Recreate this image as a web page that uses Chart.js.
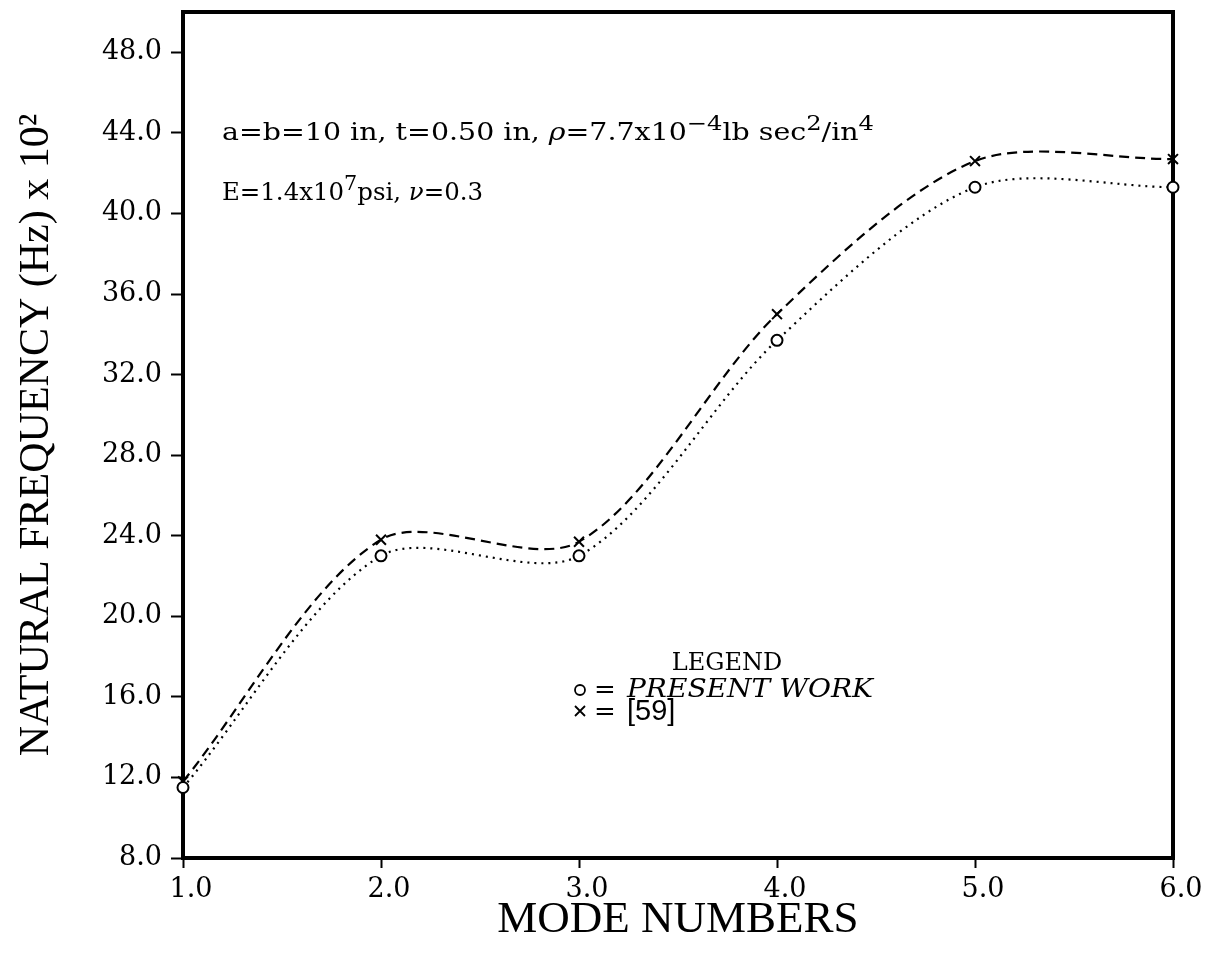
<!DOCTYPE html>
<html>
<head>
<meta charset="utf-8">
<script src="https://cdn.jsdelivr.net/npm/chart.js@4.4.0/dist/chart.umd.min.js"></script>
<style>
  html, body { margin: 0; padding: 0; background: #fff; }
  #wrap { width: 1211px; height: 953px; }
</style>
</head>
<body>
<div id="wrap"><canvas id="freqChart" width="1211" height="953"></canvas></div>
<script>
// data
const modeNumbers = [1, 2, 3, 4, 5, 6];
const presentWork = [11.5, 23.0, 23.0, 33.7, 41.3, 41.3];
const ref59 = [11.8, 23.8, 23.7, 35.0, 42.6, 42.7];
const xTicks = [1, 2, 3, 4, 5, 6];
const yTicks = [8, 12, 16, 20, 24, 28, 32, 36, 40, 44, 48];

const tickFont = { family: '"DejaVu Serif"', size: 27 };
const titleFamily = '"Liberation Serif"';
const serif = '"DejaVu Serif"';

function pieceFont(p, baseSize, family) {
    const size = p.sup ? baseSize * 0.85 : baseSize;
    return (p.italic ? 'italic ' : '') + size + 'px ' + (p.family || family);
}

// draws a run of text pieces, some raised as superscripts;
// if fitWidth is given the run is stretched horizontally to that width
function drawRich(ctx, x, y, parts, baseSize, family, fitWidth) {
    const widths = parts.map(p => {
        ctx.font = pieceFont(p, baseSize, family);
        return ctx.measureText(p.t).width;
    });
    const total = widths.reduce((a, b) => a + b, 0);
    const sx = fitWidth ? fitWidth / total : 1;
    ctx.save();
    ctx.translate(x, y);
    ctx.scale(sx, 1);
    let cx = 0;
    parts.forEach((p, i) => {
        ctx.font = pieceFont(p, baseSize, family);
        ctx.fillText(p.t, cx, p.sup ? -baseSize * 0.42 : 0);
        cx += widths[i];
    });
    ctx.restore();
}

const figurePlugin = {
    id: 'figureDecor',
    beforeDatasetsDraw(chart) {
        const { ctx, chartArea } = chart;
        ctx.save();
        ctx.strokeStyle = '#000';
        ctx.lineWidth = 4;
        ctx.strokeRect(chartArea.left, chartArea.top, chartArea.right - chartArea.left, chartArea.bottom - chartArea.top);
        ctx.restore();
    },
    afterDraw(chart) {
        const { ctx } = chart;
        ctx.save();
        ctx.fillStyle = '#000';
        ctx.strokeStyle = '#000';
        ctx.textBaseline = 'alphabetic';
        ctx.textAlign = 'left';

        // parameter notes
        drawRich(ctx, 222, 140, [
            { t: 'a=b=10 in, t=0.50 in, ' },
            { t: 'ρ', italic: true },
            { t: '=7.7x10' },
            { t: '−4', sup: true },
            { t: 'lb sec' },
            { t: '2', sup: true },
            { t: '/in' },
            { t: '4', sup: true }
        ], 24, serif, 652);
        drawRich(ctx, 222, 200, [
            { t: 'E=1.4x10' },
            { t: '7', sup: true },
            { t: 'psi, ' },
            { t: 'ν', italic: true },
            { t: '=0.3' }
        ], 24, serif, 261);

        // legend
        ctx.font = '24px ' + serif;
        ctx.textAlign = 'center';
        ctx.fillText('LEGEND', 727, 670);
        ctx.textAlign = 'left';

        ctx.lineWidth = 1.8;
        ctx.beginPath();
        ctx.arc(580, 690, 5, 0, Math.PI * 2);
        ctx.stroke();
        ctx.beginPath();
        ctx.moveTo(575, 706); ctx.lineTo(585, 716);
        ctx.moveTo(585, 706); ctx.lineTo(575, 716);
        ctx.stroke();

        ctx.font = '26px ' + serif;
        ctx.fillText('=', 594, 698);
        ctx.fillText('=', 594, 720);
        drawRich(ctx, 627, 697, [{ t: 'PRESENT WORK', italic: true }], 26, serif, 246);
        ctx.font = '29px "Liberation Sans"';
        ctx.fillText('[59]', 627, 720);
        ctx.restore();
    }
};

const ctx = document.getElementById('freqChart').getContext('2d');

new Chart(ctx, {
    type: 'line',
    data: {
        datasets: [
            {
                label: 'PRESENT WORK',
                data: modeNumbers.map((m, i) => ({ x: m, y: presentWork[i] })),
                borderColor: '#000',
                borderWidth: 2.2,
                borderDash: [2, 5],
                tension: 0.3,
                pointStyle: 'circle',
                pointRadius: 5.5,
                pointBorderWidth: 2,
                pointBorderColor: '#000',
                pointBackgroundColor: '#fff',
                clip: false
            },
            {
                label: '[59]',
                data: modeNumbers.map((m, i) => ({ x: m, y: ref59[i] })),
                borderColor: '#000',
                borderWidth: 2.2,
                borderDash: [10, 6],
                tension: 0.3,
                pointStyle: 'crossRot',
                pointRadius: 7,
                pointBorderWidth: 2,
                pointBorderColor: '#000',
                clip: false
            }
        ]
    },
    options: {
        responsive: false,
        animation: false,
        devicePixelRatio: 1,
        layout: { padding: { top: 12, right: 38, left: 0, bottom: 0 } },
        plugins: {
            legend: { display: false },
            tooltip: { enabled: false }
        },
        scales: {
            x: {
                type: 'linear',
                min: 1,
                max: 6,
                afterBuildTicks: scale => { scale.ticks = xTicks.map(v => ({ value: v })); },
                afterFit: scale => {
                    scale.height = 95;
                    scale.paddingLeft = 0;
                    scale.paddingRight = 0;
                },
                ticks: {
                    color: '#000',
                    font: tickFont,
                    padding: 6,
                    labelOffset: 8,
                    callback: v => v.toFixed(1)
                },
                grid: {
                    drawOnChartArea: false,
                    drawTicks: true,
                    tickLength: 10,
                    tickWidth: 2,
                    tickColor: '#000'
                },
                border: { display: false },
                title: {
                    display: true,
                    text: 'MODE NUMBERS',
                    color: '#000',
                    font: { family: titleFamily, size: 45 },
                    padding: { top: 0, bottom: 6 }
                }
            },
            y: {
                type: 'linear',
                min: 8,
                max: 50,
                afterBuildTicks: scale => { scale.ticks = yTicks.map(v => ({ value: v })); },
                afterFit: scale => {
                    scale.width = 183;
                    scale.paddingTop = 0;
                    scale.paddingBottom = 0;
                },
                ticks: {
                    color: '#000',
                    font: tickFont,
                    padding: 9,
                    callback: v => v.toFixed(1)
                },
                grid: {
                    drawOnChartArea: false,
                    drawTicks: true,
                    tickLength: 12,
                    tickWidth: 2,
                    tickColor: '#000'
                },
                border: { display: false },
                title: {
                    display: true,
                    text: 'NATURAL FREQUENCY (Hz) x 10²',
                    color: '#000',
                    font: { family: titleFamily, size: 42 },
                    padding: { top: 12, bottom: 0 }
                }
            }
        }
    },
    plugins: [figurePlugin]
});
</script>
</body>
</html>
